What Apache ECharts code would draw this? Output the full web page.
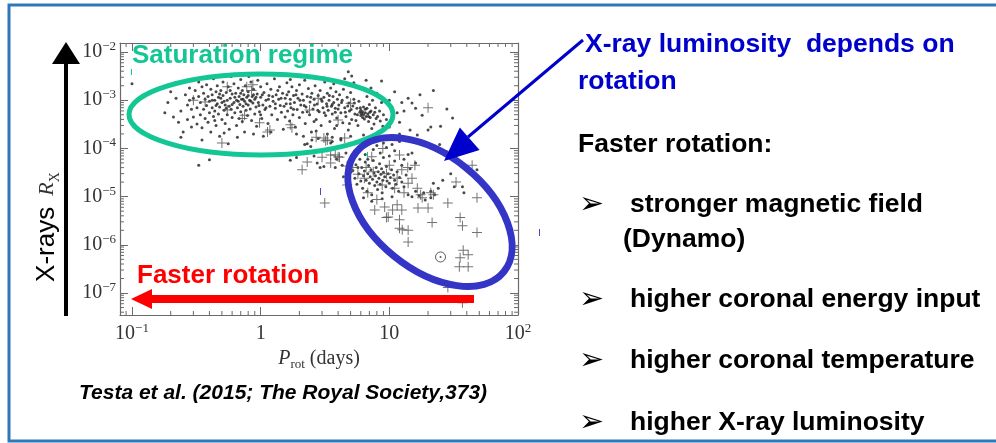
<!DOCTYPE html>
<html>
<head>
<meta charset="utf-8">
<script src="https://cdn.jsdelivr.net/npm/echarts@6/dist/echarts.min.js"></script>
<style>
  html, body { margin: 0; padding: 0; background: #ffffff; }
  #chart { width: 996px; height: 443px; }
</style>
</head>
<body>
<div id="chart"></div>
<script>
// Rotation period P_rot (days) vs. X-ray activity R_X = L_X / L_bol

// Axis ticks and their labels
const xTicks = [0.1, 1, 10, 100];
const xTickText = ['{b|10}{s|−1}', '{b|1}', '{b|10}', '{b|10}{s|2}'];
const yTicks = [1e-2, 1e-3, 1e-4, 1e-5, 1e-6, 1e-7];
const yTickText = ['{b|10}{s|−2}', '{b|10}{s|−3}', '{b|10}{s|−4}', '{b|10}{s|−5}', '{b|10}{s|−6}', '{b|10}{s|−7}'];

// Stars shown as dots: saturated regime [P_rot, R_X]
const dotsSaturated = [
  [0.1,2.2e-3],[0.19,9e-4],[0.2,1.5e-3],[0.22,1.1e-3],[0.21,4.5e-4],[0.23,3.5e-4],[0.24,6e-4],[0.25,2.2e-4],[0.26,1.3e-3],[0.27,8e-4],
  [0.27,4e-4],[0.28,1.8e-3],[0.29,6.5e-4],[0.29,2.8e-4],[0.3,1.1e-3],[0.24,1.7e-4],[0.18,5.5e-4],[0.26,2.5e-3],[0.3,4.5e-4],[0.28,1e-3],
  [0.31,1.6e-3],[0.32,7e-4],[0.32,3.2e-4],[0.33,1.2e-3],[0.33,2.4e-3],[0.34,5e-4],[0.34,9e-4],[0.35,1.9e-3],[0.35,2.7e-4],[0.36,6.5e-4],
  [0.36,1.4e-3],[0.37,1.05e-3],[0.37,4.2e-4],[0.38,2.1e-3],[0.38,7.8e-4],[0.39,1.2e-3],[0.39,3.5e-4],[0.4,9.5e-4],[0.4,5.5e-4],[0.41,1.7e-3],
  [0.41,2.2e-4],[0.42,7e-4],[0.42,1.3e-3],[0.43,4.6e-4],[0.43,2.8e-3],[0.44,1e-3],[0.44,6e-4],[0.45,1.5e-3],[0.45,3e-4],[0.46,8.5e-4],
  [0.46,2e-3],[0.47,5.2e-4],[0.47,1.15e-3],[0.48,7.2e-4],[0.48,1.8e-4],[0.49,1.6e-3],[0.5,9e-4],[0.5,4e-4],[0.51,2.4e-3],[0.51,1.25e-3],
  [0.52,6.2e-4],[0.53,8e-4],[0.53,3.3e-4],[0.54,1.45e-3],[0.55,1e-3],[0.55,5e-4],[0.56,1.9e-3],[0.57,7.5e-4],[0.57,2.5e-4],[0.58,1.1e-3],
  [0.59,6.5e-4],[0.59,3.1e-3],[0.6,4.4e-4],[0.6,1.35e-3],[0.38,2.9e-3],[0.44,3.8e-4],[0.52,2.1e-4],[0.35,1.5e-4],[0.49,1.1e-3],[0.56,1.25e-4],
  [0.33,4.5e-5],[0.4,5.8e-5],
  [0.62,9e-4],[0.62,2.2e-3],[0.63,5.5e-4],[0.64,1.4e-3],[0.65,3e-4],[0.65,1e-3],[0.66,7e-4],[0.67,1.8e-3],[0.68,4.2e-4],[0.68,1.2e-3],
  [0.69,8.2e-4],[0.7,2.7e-3],[0.7,5.8e-4],[0.71,1.05e-3],[0.72,1.6e-3],[0.72,3.6e-4],[0.73,7.5e-4],[0.74,1.3e-3],[0.75,2.2e-4],[0.75,9.5e-4],
  [0.76,2e-3],[0.77,6.2e-4],[0.78,1.15e-3],[0.79,4.8e-4],[0.8,1.5e-3],[0.8,8e-4],[0.81,3.1e-3],[0.82,1e-3],[0.83,6.6e-4],[0.84,2.4e-3],
  [0.85,3.8e-4],[0.86,1.2e-3],[0.87,8.8e-4],[0.88,1.7e-3],[0.9,5.2e-4],[0.9,1.05e-3],[0.92,7.2e-4],[0.93,2.9e-4],[0.94,1.35e-3],[0.95,2.6e-3],
  [0.96,9e-4],[0.98,5.8e-4],[1,1.15e-3],[1,1.9e-3],[1.02,4.2e-4],[1.04,8e-4],[1.06,1.45e-3],[1.08,6.4e-4],[1.1,1e-3],[1.12,2.2e-3],
  [1.14,3.3e-4],[1.16,1.25e-3],[1.18,7.5e-4],[1.2,1.7e-3],[1.22,5e-4],[1.25,9.5e-4],[1.28,2.8e-3],[1.3,6.8e-4],[1.32,1.3e-3],[1.35,4e-4],
  [1.38,1.05e-3],[1.4,1.9e-3],[1.42,7.8e-4],[1.45,5.6e-4],[1.48,1.4e-3],[1.5,2.5e-4],[0.88,2e-4],[1.05,1.8e-4],[0.66,1.7e-4],[1.2,2.2e-4],
  [1.55,1.1e-3],[1.58,8.5e-4],[1.6,2.3e-3],[1.62,6e-4],[1.65,1.5e-3],[1.68,3.7e-4],[1.7,1.05e-3],[1.72,7e-4],[1.75,1.9e-3],[1.78,5e-4],
  [1.8,1.25e-3],[1.83,9e-4],[1.86,2.8e-4],[1.9,1.6e-3],[1.92,6.4e-4],[1.95,1.1e-3],[2,4.4e-4],[2,2.1e-3],[2.05,8e-4],[2.1,1.35e-3],
  [2.12,5.6e-4],[2.15,1e-3],[2.2,2.6e-3],[2.22,3.3e-4],[2.25,7.2e-4],[2.3,1.2e-3],[2.35,1.75e-3],[2.4,5e-4],[2.42,9.2e-4],[2.48,2.2e-4],
  [2.5,1.4e-3],[2.55,6.6e-4],[2.6,1.05e-3],[2.65,2e-3],[2.7,4e-4],[2.75,8.4e-4],[2.8,1.25e-3],[2.85,5.8e-4],[2.9,1.6e-3],[2.95,3e-4],
  [3,9.5e-4],[3.05,7e-4],[3.1,1.15e-3],[3.15,2.4e-3],[3.2,4.8e-4],[3.25,8.5e-4],[3.3,1.4e-3],[3.35,6.2e-4],[3.4,1e-3],[3.45,3.6e-4],
  [3.5,1.8e-3],[3.55,7.5e-4],[3.6,5.2e-4],[3.65,1.2e-3],[3.7,9e-4],[3.75,2.6e-4],[3.8,6.8e-4],[3.85,1.5e-3],[3.9,4.3e-4],[3.95,1.05e-3],
  [2.15,1.8e-4],[2.8,1.6e-4],[3.3,2e-4],[3.6,1.7e-4],[1.9,2e-4],[2.4,3e-3],[3.1,2.9e-3],[3.7,2.2e-3],[1.7,2.7e-3],[2.7,2.3e-4],
  [4.05,8e-4],[4.1,1.3e-3],[4.2,5.5e-4],[4.3,1e-3],[4.35,3.4e-4],[4.4,1.7e-3],[4.5,7e-4],[4.6,4.6e-4],[4.7,1.15e-3],[4.8,2.4e-4],
  [4.85,8.8e-4],[4.9,6e-4],[5,1.45e-3],[5.1,4e-4],[5.2,7.6e-4],[5.3,1.05e-3],[5.4,5.2e-4],[5.5,2e-3],[5.6,6.8e-4],[5.7,3e-4],
  [5.8,9.5e-4],[5.9,5.6e-4],[6,4.8e-4],[6,6.2e-4],[6.1,5.3e-4],[6.2,4.4e-4],[6.2,5.8e-4],[6.3,7.2e-4],[6.3,5e-4],[6.4,4.1e-4],
  [6.5,5.5e-4],[6.5,6.5e-4],[6.6,4.6e-4],[6.7,1.2e-3],[6.8,5.2e-4],[6.9,3.6e-4],[7,8.2e-4],[7.1,4.4e-4],[7.2,6e-4],[7.3,2.6e-4],
  [7.4,1e-3],[7.5,5e-4],[7.6,3.2e-4],[7.8,7e-4],[7.9,4.2e-4],[8,1.4e-3],[8.2,2.2e-4],[8.4,6e-4],[8.5,3.7e-4],[8.7,9e-4],
  [8.9,2.9e-4],[9,5e-4],[4.5,2.8e-3],[5.3,2.3e-3],[6.6,2.6e-3],[7.2,1.8e-3],[5,1.8e-4],[6.3,1.9e-4],[4.2,1.6e-4],[8,1.65e-4],
  [8.7,2.5e-3],[11,1.5e-3],[15,8.8e-4],[17.3,1.3e-3],[28,6.6e-4],[31,4.3e-4],[20,2.4e-4],[14.5,2.4e-4],[12,3.5e-4],[18,4.9e-4],
  [4.8,3.9e-3],[5.1,3.2e-3],[10,1e-3],[10.5,7e-4],[11.5,5.5e-4],[12.5,9e-4],[13,6e-4],[14,1.1e-3],[9.5,4e-4],[10,2.8e-4],
  [16,6.8e-4],[22,1.6e-3],[25,2.9e-4],[12,2e-4],[9.8,1.6e-4],
  [0.42,1e-3],[0.45,7.8e-4],[0.48,1.35e-3],[0.52,9.5e-4],[0.54,6.8e-4],[0.58,1.6e-3],[0.6,8.2e-4],[0.63,1.15e-3],[0.67,9.5e-4],[0.7,1.4e-3],
  [0.73,1.05e-3],[0.77,8.5e-4],[0.8,1.25e-3],[0.84,9.5e-4],[0.88,1.3e-3],[0.92,1.15e-3],[0.97,7.8e-4],[1.03,1.3e-3],[1.1,7e-4],[1.15,1.05e-3],
  [1.24,1.2e-3],[1.3,8.5e-4],[1.36,1.6e-3],[1.44,1.1e-3],[1.52,7.5e-4],[1.6,1.3e-3],[1.7,8.5e-4],[1.8,6.5e-4],[1.88,1.3e-3],[2.02,1e-3],
  [2.18,7.8e-4],[2.3,5.8e-4],[2.45,1.15e-3],[2.62,8e-4],[2.78,6.2e-4],[2.95,1.05e-3],[3.12,5.5e-4],[3.28,7.5e-4],[3.42,1.25e-3],[3.6,8.2e-4],
  [3.8,5.6e-4],[4,6.6e-4],[4.25,9e-4],[4.55,5.6e-4],[4.75,7.6e-4],[5.05,6.4e-4],[5.35,8.8e-4],[5.65,5e-4],[5.95,7e-4],[6.7,6.8e-4],
  [7.05,5.6e-4],[7.7,5.6e-4],[8.1,4.6e-4],[5.5,3.8e-4],[6.9,4.6e-4],[4.9,3.3e-4],[3.9,3e-4],[2.6,3.6e-4],[1.55,4.5e-4],[1,5e-4]
];

// Stars shown as dots: transition and unsaturated regime [P_rot, R_X]
const dotsUnsaturated = [
  [1.7,5.7e-5],[1.9,6.5e-5],[2.2,1.2e-4],[2.3,1.25e-4],[2.45,1.1e-4],[2.6,7e-5],[2.75,5e-5],[2.9,4e-5],[3.1,4.2e-5],[3.3,9e-5],
  [3.5,1.3e-4],[3.8,4e-5],[3.9,6e-5],[4,1.05e-4],[4.3,4.5e-5],[4.4,2.6e-5],[4.6,8e-5],[4.8,1.2e-4],[5,3.2e-5],[5.2,6.5e-5],
  [5.5,1.4e-4],[5.7,4e-5],[5.9,9e-5],[6.2,1.1e-4],[6.5,7.5e-5],[7,1.3e-4],[7.5,9.5e-5],[8,1.15e-4],[8.5,8e-5],[9,1.3e-4],
  [9.5,1.05e-4],[10.5,1.2e-4],[11,9e-5],[12,1.4e-4],[3.6,1.4e-4],[4.2,1.5e-4],[2.5,1.5e-4],
  [5.2,3.5e-5],[5.4,2.4e-5],[5.5,4.6e-5],[5.6,1.8e-5],[5.8,3e-5],[5.9,6e-5],[6,2.1e-5],[6.1,4e-5],[6.2,1.5e-5],[6.3,2.7e-5],
  [6.4,3.4e-5],[6.5,5.2e-5],[6.6,2.2e-5],[6.7,1.3e-5],[6.8,3e-5],[6.9,4.4e-5],[7,1.9e-5],[7.1,2.6e-5],[7.2,3.6e-5],[7.3,1.1e-5],
  [7.4,2.3e-5],[7.5,5.6e-5],[7.6,3.1e-5],[7.7,1.7e-5],[7.8,2.7e-5],[7.9,4e-5],[8,2e-5],[8.1,1.4e-5],[8.2,3.3e-5],[8.3,2.4e-5],
  [8.4,4.8e-5],[8.5,1.8e-5],[8.6,2.9e-5],[8.7,3.8e-5],[8.8,1.2e-5],[8.9,2.2e-5],[9,3.2e-5],[9.2,2.6e-5],[9.4,1.6e-5],[9.5,4.2e-5],
  [9.6,2.1e-5],[9.8,3e-5],[10,1.9e-5],[10.2,2.5e-5],[10.4,3.6e-5],[10.6,1.5e-5],[10.8,2.8e-5],[11,2.2e-5],[11.3,1.8e-5],[11.5,3.3e-5],
  [11.8,1.3e-5],[12,2.5e-5],[12.5,2e-5],[13,1.6e-5],[13.5,2.8e-5],[14,1.1e-5],[7.3,8e-6],[8.8,9e-6],[10.5,1e-5],[6.3,9.5e-6],
  [15,1e-5],[16,1.3e-5],[17,1.05e-5],[18.5,1.2e-5],[19,8.5e-6],[21,9.5e-6],[6.8,6e-5],[9,6.5e-5],[11,5.5e-5],[12.5,4.5e-5],
  [13,6e-5],[14.5,3.8e-5],[16,5e-5],[22,1.9e-5],[24,1.5e-5],[26,2.2e-5],[30,3e-5],[38,1.2e-5],[14,7.5e-5],[10,7e-5],
  [21,2.8e-4],[24.6,1.2e-4],[28,8.5e-5],[16.5,1.9e-4],[15,8e-5],[37,1.6e-5],[48,3.6e-5],[32,1.6e-5],[21,1.3e-5],[22.5,1.1e-5]
];

// Stars shown as crosses [P_rot, R_X]
const crossStars = [
  [0.78,1.9e-3],[0.85,1.6e-3],[0.55,1.9e-3],[0.37,9.2e-4],[0.75,4.9e-4],[0.72,4.2e-4],[0.98,3.4e-4],[1.13,2.2e-4],[0.5,1.3e-4],[0.55,6.3e-4],
  [0.87,2.1e-3],[0.3,1e-3],[1.7,3.1e-4],[1.75,2.7e-4],[3.1,1.65e-4],[3.2,1.45e-4],[4.5,1.65e-4],[4,3.9e-4],[3.8,7.3e-5],[2.3,5.2e-5],
  [5,8.7e-4],[2.8,1.1e-3],[1.18,2.4e-4],[3,6.6e-5],[2.1,3.6e-5],[4.1,6.6e-5],[3.5,5e-5],[4.7,4.3e-5],[20,7e-4],[44,4.5e-5],
  [2.4,6.3e-4],[2.7,1.7e-4],[3.3,1.5e-4],[3.15,7.4e-6],
  [12,7.3e-5],[15.8,4.5e-5],[13.9,4e-5],[33,2e-5],[48,9.5e-6],[28.5,7.4e-6],[35.5,3.7e-6],[37,2.5e-6],[48,1.8e-6],[21.5,2.9e-6],
  [14,2e-6],[12,2.2e-6],[14,1.15e-6],[37.5,7.7e-7],[35.5,5.4e-7],[41,6.2e-7],[41,3.5e-7],[35,3.5e-7],[28.5,1.3e-7],[37,6.3e-8],
  [18,9.5e-6],[22,1.1e-5],[16.7,5.8e-6],[20,5.8e-6],[12.5,5.3e-6],[9.5,3.7e-6],[10.6,5.3e-6],[16.5,1.5e-5],[21,1.2e-5],[14,1.9e-5],
  [15,2.4e-5],[8.9,1e-4],[7.3,6.7e-5],[6.4,2.4e-5],[8.8,1.75e-5],[6.8,1.2e-5],[8,8.7e-6],[9.2,6.1e-6],[11.5,6.8e-6],[9.8,3.8e-6],
  [12,3.3e-6],[12.6,2.05e-6],[7.7,5.3e-6],[4,6.7e-5],[3.5,7.3e-5],[5.2,4e-5],[5.7,2.9e-5],[6.6,4e-5],[11.5,2.4e-5],[12.5,3.6e-5],
  [10,4.5e-5],[11,1.5e-5],[4.7,1.75e-5],[9.5,3e-5],[7.5,3.3e-5],[13,1.2e-5],[17.5,1.1e-5]
];

// The Sun
const sunStar = [[25, 5.6e-7]];

// Axis extents
const X_MIN = 0.0807, X_MAX = 100;
const Y_MIN = 3.5e-8, Y_MAX = 0.0154;

const SERIF = '"Liberation Serif", "Times New Roman", serif';
const SANS = '"Liberation Sans", Arial, sans-serif';
const AXIS_GREY = '#6a6a6a';
const NOTE_FONT = 'bold 26.5px ' + SANS;

function tickLabel(ticks, texts) {
  return function (v) {
    for (let i = 0; i < ticks.length; i++) {
      if (Math.abs(Math.log10(v) - Math.log10(ticks[i])) < 1e-4) return texts[i];
    }
    return '';
  };
}

const labelRich = {
  b: { fontFamily: SERIF, fontSize: 20, color: '#333', lineHeight: 24 },
  s: { fontFamily: SERIF, fontSize: 13, color: '#333', lineHeight: 13, verticalAlign: 'top' }
};

function baseAxis(extra) {
  return Object.assign({
    type: 'log',
    logBase: 10,
    splitNumber: 5,
    axisLine: { show: true, onZero: false, lineStyle: { color: AXIS_GREY, width: 1.2 } },
    axisTick: { show: true, inside: true, length: 8, lineStyle: { color: AXIS_GREY, width: 1 } },
    splitLine: { show: false },
    minorTick: { show: false }
  }, extra);
}

// Minor ticks at 2..9 x 10^k on all four sides of the frame
function minorTickValues(lo, hi) {
  const out = [];
  for (let k = Math.floor(Math.log10(lo)); k <= Math.ceil(Math.log10(hi)); k++) {
    for (let m = 2; m <= 9; m++) {
      const v = m * Math.pow(10, k);
      if (v > lo && v < hi) out.push(v);
    }
  }
  return out;
}
const xMinor = minorTickValues(X_MIN, X_MAX);
const yMinor = minorTickValues(Y_MIN, Y_MAX);

function note(x, y, text, color) {
  return { type: 'text', silent: true, z: 100, x: x, y: y,
    style: { text: text, font: NOTE_FONT, fill: color || '#000',
             textAlign: 'left', textVerticalAlign: 'middle', align: 'left', verticalAlign: 'middle' } };
}
function bullet(y) {
  return { type: 'text', silent: true, z: 100, x: 579, y: y,
    style: { text: '➢', font: '30px "DejaVu Sans", sans-serif', fill: '#000',
             textAlign: 'left', textVerticalAlign: 'middle', align: 'left', verticalAlign: 'middle' } };
}
// small leftover edit marks on the slide
function stroke(x, y1, y2, color) {
  return { type: 'line', silent: true, z: 100,
    shape: { x1: x, y1: y1, x2: x, y2: y2 }, style: { stroke: color, lineWidth: 1 } };
}

const chart = echarts.init(document.getElementById('chart'), null, { renderer: 'canvas' });

const option = {
  backgroundColor: '#ffffff',
  animation: false,
  grid: { left: 120, top: 43, right: 478, bottom: 128, containLabel: false },
  xAxis: [
    baseAxis({
      position: 'bottom', min: X_MIN, max: X_MAX,
      axisLabel: { show: true, margin: 7, formatter: tickLabel(xTicks, xTickText), rich: labelRich, showMinLabel: true, showMaxLabel: true, hideOverlap: false },
      name: '{i|P}{sub|rot}{n| (days)}',
      nameLocation: 'middle', nameGap: 32,
      nameTextStyle: {
        rich: {
          i: { fontFamily: SERIF, fontStyle: 'italic', fontSize: 20, color: '#333', lineHeight: 24 },
          sub: { fontFamily: SERIF, fontSize: 13, color: '#333', lineHeight: 13, verticalAlign: 'bottom' },
          n: { fontFamily: SERIF, fontSize: 20, color: '#333', lineHeight: 24 }
        }
      }
    }),
    baseAxis({ position: 'top', min: X_MIN, max: X_MAX, axisLabel: { show: false } })
  ],
  yAxis: [
    baseAxis({
      position: 'left', min: Y_MIN, max: Y_MAX,
      axisLabel: { show: true, margin: 4, formatter: tickLabel(yTicks, yTickText), rich: labelRich, showMinLabel: true, showMaxLabel: true, hideOverlap: false }
    }),
    baseAxis({ position: 'right', min: Y_MIN, max: Y_MAX, axisLabel: { show: false } })
  ],
  series: [
    {
      name: 'minor ticks',
      type: 'custom',
      silent: true,
      clip: false,
      data: [[1, 1e-4]],
      renderItem: function (params, api) {
        const cs = params.coordSys;
        const children = [];
        const st = { stroke: AXIS_GREY, lineWidth: 1 };
        xMinor.forEach(function (v) {
          const px = api.coord([v, Y_MAX])[0];
          children.push({ type: 'line', shape: { x1: px, y1: cs.y + cs.height, x2: px, y2: cs.y + cs.height - 4 }, style: st });
          children.push({ type: 'line', shape: { x1: px, y1: cs.y, x2: px, y2: cs.y + 4 }, style: st });
        });
        yMinor.forEach(function (v) {
          const py = api.coord([X_MAX, v])[1];
          children.push({ type: 'line', shape: { x1: cs.x, y1: py, x2: cs.x + 4, y2: py }, style: st });
          children.push({ type: 'line', shape: { x1: cs.x + cs.width, y1: py, x2: cs.x + cs.width - 4, y2: py }, style: st });
        });
        return { type: 'group', children: children };
      }
    },
    {
      name: 'saturated', type: 'scatter', data: dotsSaturated,
      symbol: 'circle', symbolSize: 3,
      itemStyle: { color: '#1c1c1c' }, silent: true
    },
    {
      name: 'unsaturated', type: 'scatter', data: dotsUnsaturated,
      symbol: 'circle', symbolSize: 3,
      itemStyle: { color: '#1c1c1c' }, silent: true
    },
    {
      name: 'crosses', type: 'scatter', data: crossStars,
      symbol: 'path://M0,4.5H10V5.5H0Z M4.5,0H5.5V10H4.5Z', symbolSize: 10,
      itemStyle: { color: '#505050' }, silent: true
    },
    {
      name: 'Sun', type: 'scatter', data: sunStar,
      symbol: 'circle', symbolSize: 10,
      itemStyle: { color: 'rgba(0,0,0,0)', borderColor: '#333', borderWidth: 1 }, silent: true
    },
    {
      name: 'Sun centre', type: 'scatter', data: sunStar,
      symbol: 'circle', symbolSize: 2,
      itemStyle: { color: '#333' }, silent: true
    }
  ],
  graphic: [
    // slide frame
    { type: 'rect', silent: true, z: 1,
      shape: { x: 9, y: 5, width: 1000, height: 436 },
      style: { fill: 'none', stroke: '#2E78BA', lineWidth: 3 } },

    // saturation regime ellipse and label
    { type: 'ellipse', silent: true, z: 100,
      shape: { cx: 261, cy: 114.5, rx: 132, ry: 40.5 },
      style: { fill: 'none', stroke: '#13C795', lineWidth: 5 } },
    { type: 'text', silent: true, z: 100, x: 132, y: 56,
      style: { text: 'Saturation regime', font: 'bold 26px ' + SANS, fill: '#13C795',
               textAlign: 'left', textVerticalAlign: 'middle', align: 'left', verticalAlign: 'middle' } },

    // unsaturated regime ellipse
    { type: 'ellipse', silent: true, z: 100, x: 430, y: 212, rotation: -39 * Math.PI / 180,
      shape: { cx: 0, cy: 0, rx: 95, ry: 57 },
      style: { fill: 'none', stroke: '#3434C6', lineWidth: 7 } },

    // blue pointer arrow
    { type: 'line', silent: true, z: 100,
      shape: { x1: 583, y1: 40, x2: 468, y2: 137 },
      style: { stroke: '#0000CC', lineWidth: 3 } },
    { type: 'polygon', silent: true, z: 100,
      shape: { points: [[444, 161], [459.8, 127.4], [479.6, 150]] },
      style: { fill: '#0000CC' } },

    // faster rotation arrow and label
    { type: 'text', silent: true, z: 100, x: 137, y: 276,
      style: { text: 'Faster rotation', font: 'bold 26px ' + SANS, fill: '#FF0000',
               textAlign: 'left', textVerticalAlign: 'middle', align: 'left', verticalAlign: 'middle' } },
    { type: 'line', silent: true, z: 100,
      shape: { x1: 474, y1: 299, x2: 148, y2: 299 },
      style: { stroke: '#FF0000', lineWidth: 8 } },
    { type: 'polygon', silent: true, z: 100,
      shape: { points: [[131, 299], [152, 289], [152, 309]] },
      style: { fill: '#FF0000' } },

    // vertical activity arrow with axis title
    { type: 'line', silent: true, z: 100,
      shape: { x1: 66, y1: 316, x2: 66, y2: 60 },
      style: { stroke: '#000000', lineWidth: 4 } },
    { type: 'polygon', silent: true, z: 100,
      shape: { points: [[66, 42], [52, 64], [80, 64]] },
      style: { fill: '#000000' } },
    { type: 'text', silent: true, z: 100, x: 47, y: 227, rotation: Math.PI / 2,
      style: {
        text: '{a|X-rays}{g|  }{r|R}{s|X}',
        textAlign: 'center', textVerticalAlign: 'middle', align: 'center', verticalAlign: 'middle',
        rich: {
          a: { font: '26px ' + SANS, fill: '#000', lineHeight: 30 },
          g: { font: '20px ' + SANS, fill: '#000', lineHeight: 30 },
          r: { font: 'italic 22px ' + SERIF, fill: '#333', lineHeight: 30 },
          s: { font: '14px ' + SERIF, fill: '#333', lineHeight: 14, verticalAlign: 'bottom' }
        }
      } },

    // leftover edit marks
    stroke(131.5, 69, 75, '#13C795'),
    stroke(367.5, 152, 158, '#13C795'),
    stroke(320.5, 188, 195, '#4848D0'),
    stroke(539.5, 229, 236, '#4848D0'),

    // reference
    { type: 'text', silent: true, z: 100, x: 79, y: 393,
      style: { text: 'Testa et al. (2015; The Royal Society,373)', font: 'italic bold 21px ' + SANS, fill: '#000',
               textAlign: 'left', textVerticalAlign: 'middle', align: 'left', verticalAlign: 'middle' } },

    // notes
    note(585, 45, 'X-ray luminosity  depends on', '#0000CC'),
    note(578, 82, 'rotation', '#0000CC'),
    note(578, 145, 'Faster rotation:'),
    bullet(205), note(630, 205, 'stronger magnetic field'),
    note(623, 240, '(Dynamo)'),
    bullet(300), note(630, 300, 'higher coronal energy input'),
    bullet(361), note(630, 361, 'higher coronal temperature'),
    bullet(423), note(630, 423, 'higher X-ray luminosity')
  ]
};

chart.setOption(option);
</script>
</body>
</html>
